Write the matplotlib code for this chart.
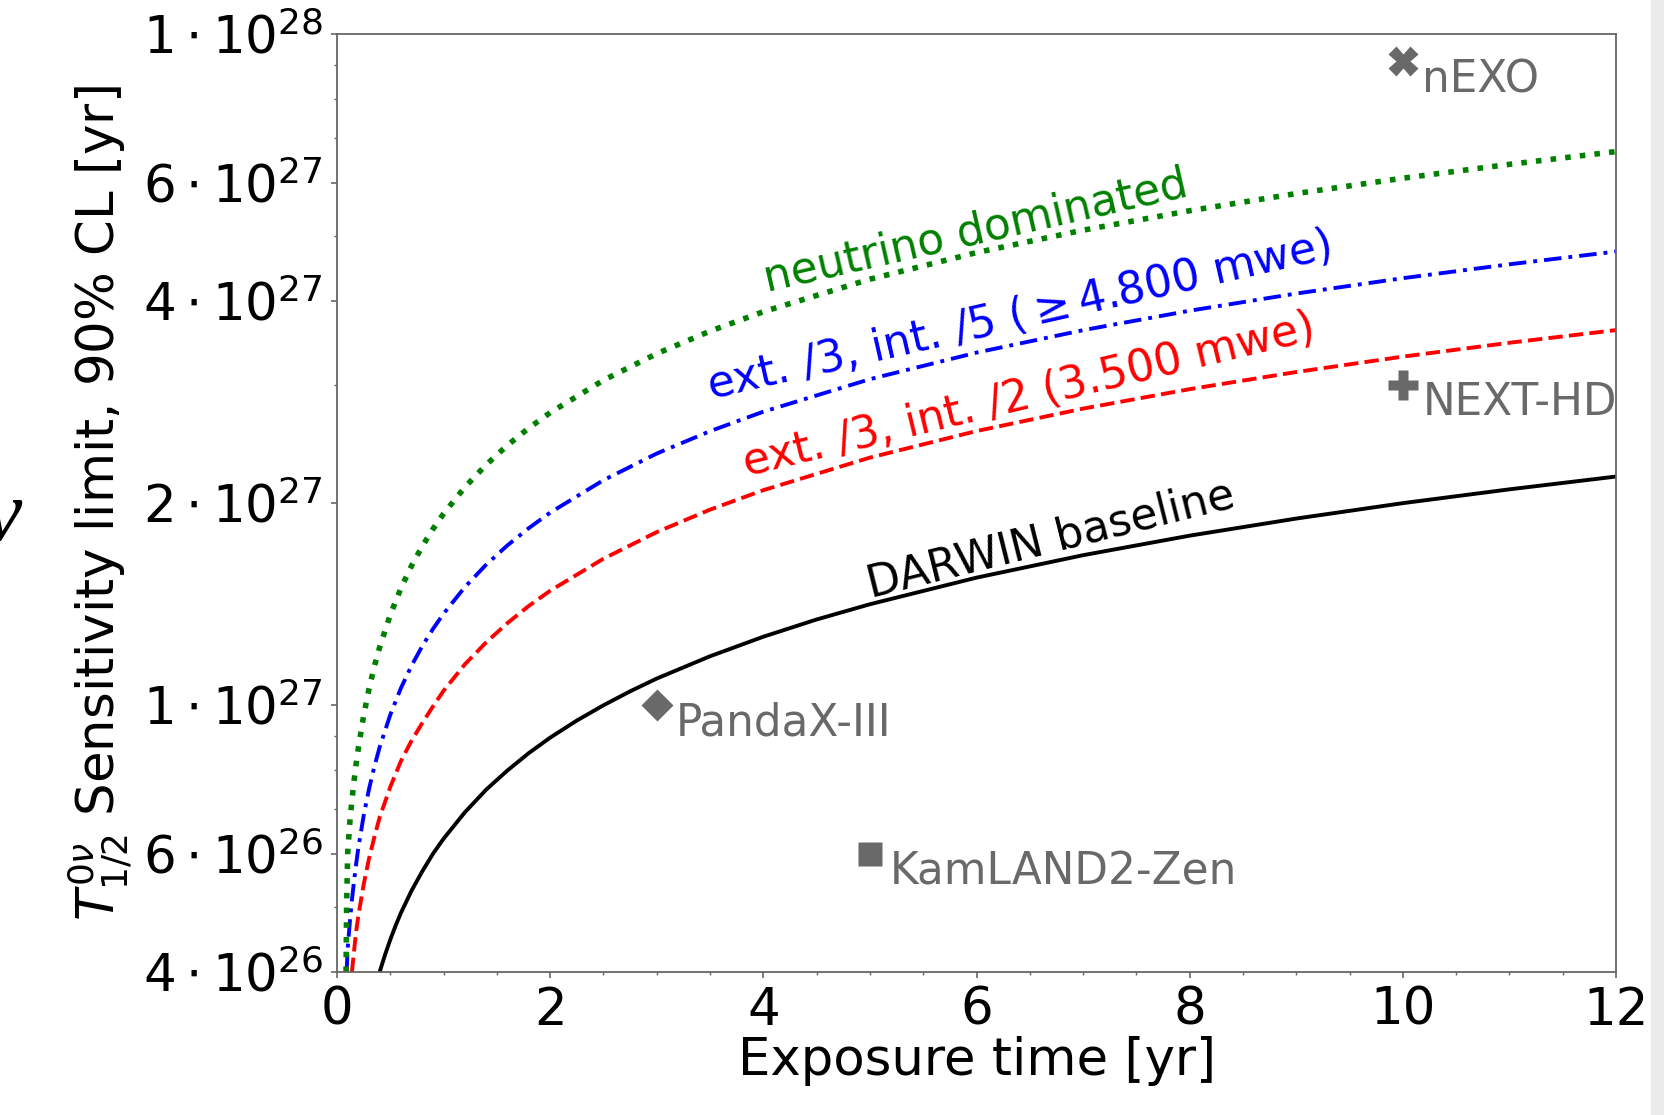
import numpy as np
import matplotlib
matplotlib.use('Agg')
import matplotlib.pyplot as plt
from matplotlib.ticker import MultipleLocator, FixedLocator, FixedFormatter, LogLocator, NullFormatter
from matplotlib.patches import Rectangle

# exposure time [yr] and sensitivity values [yr]
t_black = [0.4, 0.45, 0.5, 0.55, 0.6, 0.7, 0.8, 0.9, 1, 1.2, 1.4, 1.6, 1.8, 2, 2.25, 2.5, 2.75, 3,
           3.5, 4, 4.5, 5, 6, 7, 8, 9, 10, 11, 12]
darwin_baseline = [0.400e27, 0.424e27, 0.447e27, 0.469e27, 0.490e27, 0.529e27, 0.565e27, 0.600e27,
                   0.632e27, 0.692e27, 0.748e27, 0.799e27, 0.848e27, 0.894e27, 0.948e27, 0.999e27,
                   1.048e27, 1.095e27, 1.182e27, 1.264e27, 1.341e27, 1.413e27, 1.548e27, 1.672e27,
                   1.788e27, 1.896e27, 1.999e27, 2.096e27, 2.19e27]

t_red = [0.14, 0.16, 0.18, 0.2, 0.25, 0.3, 0.35, 0.4, 0.5, 0.6, 0.7, 0.8, 0.9, 1, 1.2, 1.4, 1.6, 1.8,
         2, 2.5, 3, 3.5, 4, 5, 6, 7, 8, 9, 10, 11, 12]
ext3_int2 = [0.400e27, 0.430e27, 0.460e27, 0.485e27, 0.540e27, 0.590e27, 0.635e27, 0.680e27,
             0.755e27, 0.825e27, 0.885e27, 0.940e27, 0.995e27, 1.050e27, 1.150e27, 1.240e27,
             1.325e27, 1.405e27, 1.480e27, 1.652e27, 1.810e27, 1.955e27, 2.090e27, 2.337e27,
             2.560e27, 2.765e27, 2.956e27, 3.135e27, 3.305e27, 3.466e27, 3.62e27]

t_blue = [0.09, 0.1, 0.12, 0.14, 0.16, 0.18, 0.2, 0.25, 0.3, 0.35, 0.4, 0.5, 0.6, 0.7, 0.8, 0.9, 1,
          1.2, 1.4, 1.6, 1.8, 2, 2.5, 3, 3.5, 4, 5, 6, 7, 8, 9, 10, 11, 12]
ext3_int5 = [0.400e27, 0.433e27, 0.474e27, 0.512e27, 0.547e27, 0.580e27, 0.612e27, 0.684e27,
             0.749e27, 0.809e27, 0.865e27, 0.967e27, 1.060e27, 1.145e27, 1.224e27, 1.298e27,
             1.368e27, 1.499e27, 1.619e27, 1.730e27, 1.835e27, 1.935e27, 2.163e27, 2.370e27,
             2.559e27, 2.736e27, 3.059e27, 3.351e27, 3.619e27, 3.869e27, 4.104e27, 4.326e27,
             4.537e27, 4.74e27]

t_green = [0.085, 0.09, 0.1, 0.12, 0.14, 0.16, 0.18, 0.2, 0.25, 0.3, 0.35, 0.4, 0.5, 0.6, 0.7, 0.8,
           0.9, 1, 1.2, 1.4, 1.6, 1.8, 2, 2.5, 3, 3.5, 4, 5, 6, 7, 8, 9, 10, 11, 12]
neutrino_dom = [0.400e27, 0.500e27, 0.600e27, 0.668e27, 0.721e27, 0.771e27, 0.818e27, 0.862e27,
                0.964e27, 1.056e27, 1.141e27, 1.219e27, 1.363e27, 1.493e27, 1.613e27, 1.724e27,
                1.829e27, 1.928e27, 2.112e27, 2.281e27, 2.439e27, 2.587e27, 2.727e27, 3.048e27,
                3.339e27, 3.607e27, 3.856e27, 4.311e27, 4.723e27, 5.101e27, 5.453e27, 5.784e27,
                6.097e27, 6.394e27, 6.68e27]

# other experiments
exp_names = ['nEXO', 'NEXT-HD', 'PandaX-III', 'KamLAND2-Zen']
exp_time = [10, 10, 3, 5]
exp_sens = [9.1e27, 3.0e27, 1.0e27, 6.0e26]
exp_marker = ['X', 'P', 'D', 's']
exp_ms = [21, 21, 16, 17]

ytick_vals = [4e26, 6e26, 1e27, 2e27, 4e27, 6e27, 1e28]
ytick_labels = [r'$4\cdot10^{26}$', r'$6\cdot10^{26}$', r'$1\cdot10^{27}$', r'$2\cdot10^{27}$',
                r'$4\cdot10^{27}$', r'$6\cdot10^{27}$', r'$1\cdot10^{28}$']

plt.rcParams['font.family'] = ['DejaVu Sans']
plt.rcParams['mathtext.fontset'] = 'dejavusans'

fig = plt.figure(figsize=(16.64, 11.15), dpi=100)
ax = fig.add_axes([337 / 1664, 1 - 972 / 1115, (1616 - 337) / 1664, (972 - 34) / 1115])

ax.plot(t_black, darwin_baseline, '-', color='k', lw=2.8)
ax.plot(t_red, ext3_int2, '--', color='r', lw=2.8)
ax.plot(t_blue, ext3_int5, color='b', lw=2.8, dashes=(4.5, 1.8, 1, 1.8))
ax.plot(t_green, neutrino_dom, ':', color='g', lw=4)

for name, tx, sv, mk, ms in zip(exp_names, exp_time, exp_sens, exp_marker, exp_ms):
    ax.plot(tx, sv, marker=mk, color='dimgray', ms=ms, mec='none', ls='none')
    ax.annotate(name, (tx, sv), xytext=(14, -13), textcoords='offset points',
                ha='left', va='center', fontsize=31.5, color='dimgray')

ax.text(5.99, 5.08e27, 'neutrino dominated', color='g', fontsize=31.5,
        rotation=12.8, rotation_mode='anchor', ha='center', va='center')
ax.text(6.40, 3.80e27, r'ext. /3, int. /5 ($\geq$4.800 mwe)', color='b', fontsize=31.5,
        rotation=12.8, rotation_mode='anchor', ha='center', va='center')
ax.text(6.49, 2.89e27, 'ext. /3, int. /2 (3.500 mwe)', color='r', fontsize=31.5,
        rotation=13.5, rotation_mode='anchor', ha='center', va='center')
ax.text(6.70, 1.76e27, 'DARWIN baseline', color='k', fontsize=31.5,
        rotation=14, rotation_mode='anchor', ha='center', va='center')

ax.set_yscale('log')
ax.set_xlim(0, 12)
ax.set_ylim(4e26, 1e28)
ax.yaxis.set_major_locator(FixedLocator(ytick_vals))
ax.yaxis.set_major_formatter(FixedFormatter(ytick_labels))
ax.yaxis.set_minor_locator(LogLocator(subs=np.arange(2, 10)))
ax.yaxis.set_minor_formatter(NullFormatter())
ax.xaxis.set_major_locator(MultipleLocator(2))
ax.xaxis.set_minor_locator(MultipleLocator(0.5))

ax.tick_params(which='both', direction='out', color='0.4', labelsize=37, top=False, right=False)
ax.tick_params(which='major', length=4, width=1.2, pad=6)
ax.tick_params(which='minor', length=2.5, width=1)
for sp in ax.spines.values():
    sp.set_color('0.4')
    sp.set_linewidth(1.3)

ax.set_xlabel('Exposure time [yr]', fontsize=37)
ax.set_ylabel(r'$T^{0\nu}_{1/2}$ Sensitivity limit, 90% CL [yr]', fontsize=37)
ax.xaxis.set_label_coords(0.5, -0.068)
ax.yaxis.set_label_coords(-0.158, 0.5)

# remnants of the page the figure was cut from
fig.text(22 / 1664, 1 - 540 / 1115, '\u03bd', family='Liberation Serif', style='italic',
         fontsize=62, ha='right', va='baseline')
fig.patches.append(Rectangle((1651 / 1664, 0), 13 / 1664, 1, transform=fig.transFigure,
                             color='#ececec', zorder=-1))

fig.savefig('out.png', dpi=100)
